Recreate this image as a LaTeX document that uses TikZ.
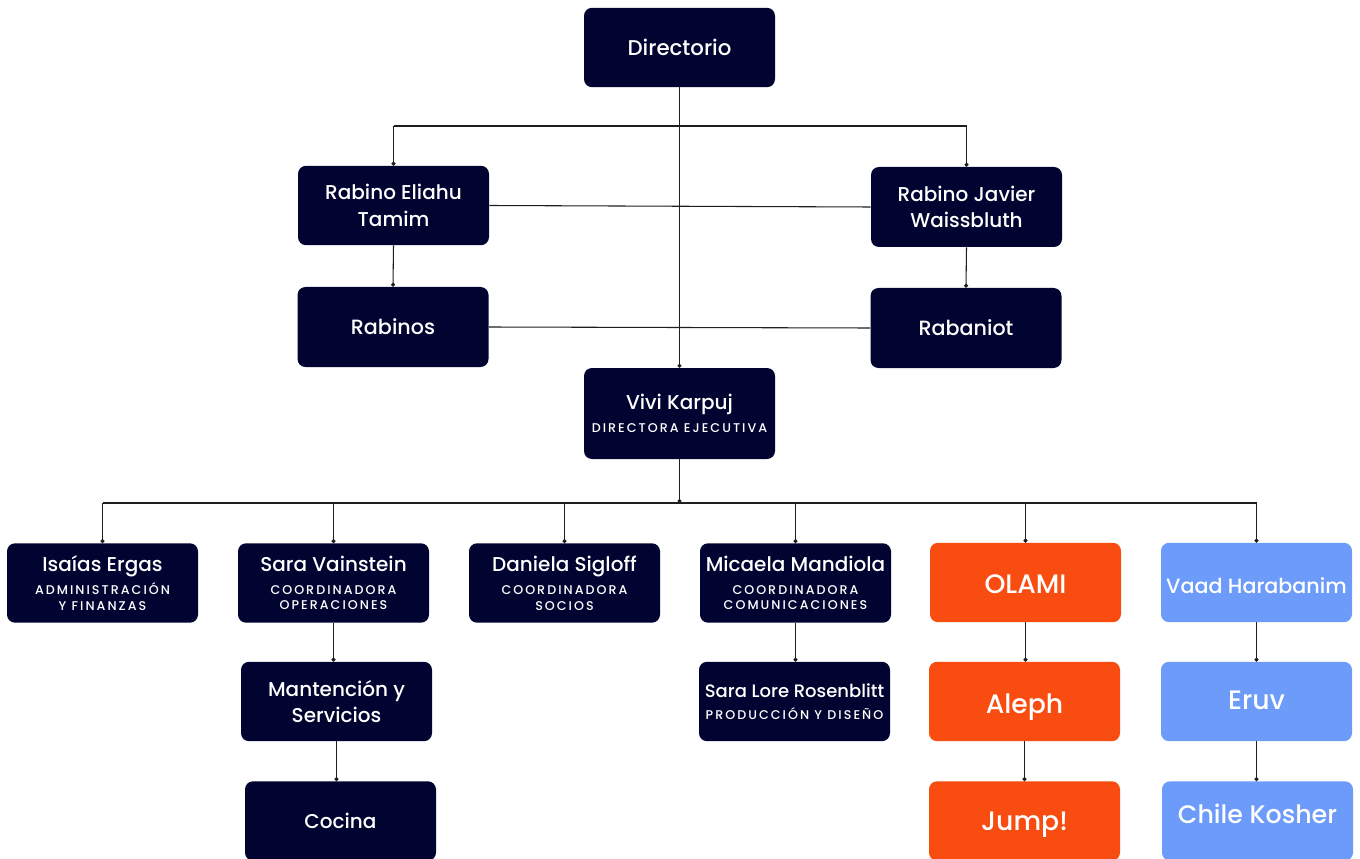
\documentclass[tikz,border=0pt]{standalone}
\usepackage{fontspec}
\setmainfont{Poppins}[UprightFont={* Medium}]
\newfontfamily\subfont{Poppins}[UprightFont={* Medium},LetterSpace=16]
\usetikzlibrary{arrows.meta}
\definecolor{navy}{RGB}{1,4,48}
\definecolor{orng}{RGB}{249,76,16}
\definecolor{skyb}{RGB}{108,155,250}
\definecolor{wire}{RGB}{30,30,30}
\newcommand{\subt}[1]{{\subfont\fontsize{9.5}{10}\selectfont #1}}
\begin{document}
\begin{tikzpicture}[x=0.75pt,y=-0.75pt,
  box/.style={rounded corners=6pt, minimum width=143.25pt, minimum height=59.5pt, inner sep=0pt, align=center, text=white, font=\fontsize{15}{20}\selectfont},
  dk/.style={box, fill=navy},
  big/.style={box, text depth=0pt, font=\fontsize{20}{22}\selectfont},
  og/.style={big, fill=orng},
  bl/.style={big, fill=skyb},
  wl/.style={draw=wire, line width=0.8pt},
  dotend/.style={wl, -{Circle[length=3pt]}}]
\clip (0,0) rectangle (1360,859);
\fill[white] (0,0) rectangle (1360,859);
% top part
\node[dk, font=\fontsize{16}{20}\selectfont] (dir) at (679.5,47.5) {Directorio};
\node[dk] (eli) at (393.5,205.5) {Rabino Eliahu\\Tamim};
\node[dk, minimum height=60pt] (jav) at (966.5,207) {Rabino Javier\\Waissbluth};
\node[dk, minimum height=60pt, font=\fontsize{15.5}{20}\selectfont] (rab) at (393,327) {Rabinos};
\node[dk, minimum height=60pt, font=\fontsize{15.5}{20}\selectfont] (rbt) at (966,328) {Rabaniot};
\node[dk, minimum height=68.25pt] (viv) at (679.5,413.5) {Vivi Karpuj\\[-3pt]\subt{DIRECTORA EJECUTIVA}};
% second row
\node[dk] (isa) at (102.5,583) {Isaías Ergas\\[-2.5pt]\subt{ADMINISTRACIÓN}\\[-8.5pt]\subt{Y FINANZAS}};
\node[dk] (sar) at (333.5,583) {Sara Vainstein\\[-2.5pt]\subt{COORDINADORA}\\[-8.5pt]\subt{OPERACIONES}};
\node[dk] (dan) at (564.5,583) {Daniela Sigloff\\[-2.5pt]\subt{COORDINADORA}\\[-8.5pt]\subt{SOCIOS}};
\node[dk] (mic) at (795.5,583) {Micaela Mandiola\\[-2.5pt]\subt{COORDINADORA}\\[-8.5pt]\subt{COMUNICACIONES}};
\node[og, text height=16.2pt] (ola) at (1025.5,582.5) {OLAMI};
\node[bl, text height=16.2pt, font=\fontsize{15.5}{20}\selectfont] (vaa) at (1256.5,582.5) {Vaad Harabanim};
% lower rows
\node[dk] (man) at (336.5,701.5) {Mantención y\\Servicios};
\node[dk] (coc) at (340.5,821) {Cocina};
\node[dk, font=\fontsize{13.5}{18}\selectfont] (slr) at (794.5,701.5) {Sara Lore Rosenblitt\\[-2pt]\subt{PRODUCCIÓN Y DISEÑO}};
\node[og, text height=17.25pt] (ale) at (1024.5,701.5) {Aleph};
\node[og, text height=13.5pt] (jum) at (1024.5,821) {Jump!};
\node[bl, text height=11.25pt] (eru) at (1256.5,701.5) {Eruv};
\node[bl, text height=3.5pt, font=\fontsize{19}{22}\selectfont] (chk) at (1257.5,821) {Chile Kosher};
% connectors
\coordinate (tb) at (679.5,126);
\coordinate (bb) at (679.5,503);
\draw[dotend] (dir.south) -- (viv.north);
\draw[wl] (eli.north |- tb) -- (jav.north |- tb);
\draw[dotend] (eli.north |- tb) -- (eli.north);
\draw[dotend] (jav.north |- tb) -- (jav.north);
\draw[wl] (eli.east) -- (jav.west);
\draw[wl] (rab.east) -- (rbt.west);
\draw[dotend] (eli.south) -- (rab.north);
\draw[dotend] (jav.south) -- (rbt.north);
\draw[dotend] (viv.south) -- (bb);
\draw[wl] (isa.north |- bb) -- (vaa.north |- bb);
\foreach \n in {isa,sar,dan,mic,ola,vaa}{
  \draw[dotend] (\n.north |- bb) -- (\n.north);
}
\draw[dotend] (sar.south) -- (sar.south |- man.north);
\draw[dotend] (man.south) -- (man.south |- coc.north);
\draw[dotend] (mic.south) -- (mic.south |- slr.north);
\draw[dotend] (ola.south) -- (ola.south |- ale.north);
\draw[dotend] (ale.south) -- (jum.north);
\draw[dotend] (vaa.south) -- (vaa.south |- eru.north);
\draw[dotend] (eru.south) -- (eru.south |- chk.north);
\end{tikzpicture}
\end{document}
